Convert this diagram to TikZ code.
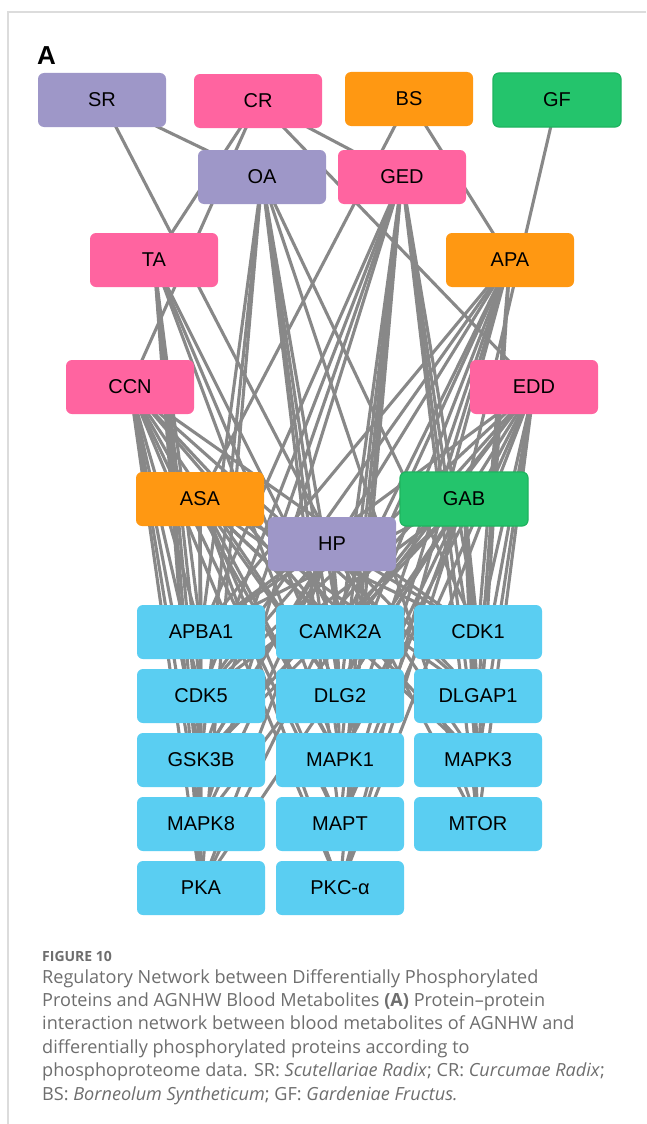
\documentclass[tikz,border=0pt]{standalone}
\usepackage{fontspec}
\setmainfont{Liberation Sans}
\newfontfamily\capfont{Open Sans}
\usetikzlibrary{backgrounds}

\definecolor{cpur}{RGB}{158,151,200}
\definecolor{cpink}{RGB}{255,100,160}
\definecolor{corange}{RGB}{255,152,18}
\definecolor{cgreen}{RGB}{36,196,108}
\definecolor{cgreenb}{RGB}{30,180,95}
\definecolor{cblue}{RGB}{90,206,242}
\definecolor{cedge}{RGB}{136,136,136}
\definecolor{ccap}{RGB}{110,110,110}
\definecolor{cframe}{RGB}{220,220,220}

\begin{document}
\begin{tikzpicture}[x=1pt,y=-1pt,
  box/.style={rounded corners=6pt, minimum width=128pt, minimum height=54pt, inner sep=0pt,
              font=\fontsize{20}{22}\selectfont, text=black},
  pur/.style={box, fill=cpur},
  pink/.style={box, fill=cpink},
  orng/.style={box, fill=corange},
  grn/.style={box, fill=cgreen, draw=cgreenb, line width=1.2pt},
  blu/.style={box, fill=cblue},
  link/.style={draw=cedge, line width=3.1pt},
  capline/.style={anchor=base west, inner sep=0pt, text=ccap, font=\capfont\fontsize{18.1}{20}\selectfont}
]
\useasboundingbox (0,0) rectangle (646,1124);

% frame
\draw[cframe, line width=1.2pt] (646,12) -- (8,12) -- (8,1124);

\node[anchor=base west, inner sep=0pt, font=\bfseries\fontsize{26}{28}\selectfont] (lblA) at (37,65) {A};

% herbs
\node[pur]  (sr)  at (102,100) {SR};
\node[pink] (cr)  at (258,101) {CR};
\node[orng] (bs)  at (409,99)  {BS};
\node[grn]  (gf)  at (557,100) {GF};
% metabolites
\node[pur]  (oa)  at (262,177) {OA};
\node[pink] (ged) at (402,177) {GED};
\node[pink] (ta)  at (154,260) {TA};
\node[orng] (apa) at (510,260) {APA};
\node[pink] (ccn) at (130,387) {CCN};
\node[pink] (edd) at (534,387) {EDD};
\node[orng] (asa) at (200,499) {ASA};
\node[grn]  (gab) at (464,499) {GAB};
\node[pur]  (hp)  at (332,544) {HP};
% proteins
\node[blu] (apba)      at (201,632) {APBA1};
\node[blu] (camk)      at (340,632) {CAMK2A};
\node[blu] (cdkone)    at (478,632) {CDK1};
\node[blu] (cdkfive)   at (201,696) {CDK5};
\node[blu] (dlgtwo)    at (340,696) {DLG2};
\node[blu] (dlgap)     at (478,696) {DLGAP1};
\node[blu] (gsk)       at (201,760) {GSK3B};
\node[blu] (mapkone)   at (340,760) {MAPK1};
\node[blu] (mapkthree) at (478,760) {MAPK3};
\node[blu] (mapkeight) at (201,824) {MAPK8};
\node[blu] (mapt)      at (340,824) {MAPT};
\node[blu] (mtor)      at (478,824) {MTOR};
\node[blu] (pka)       at (201,888) {PKA};
\node[blu] (pkc)       at (340,888) {PKC-α};

\begin{scope}[on background layer]
\fill[white] (0,0) rectangle (646,1124);
\foreach \a/\b in {sr/oa, sr/hp, cr/ta, cr/ccn, cr/ged, cr/edd, bs/asa, bs/apa, gf/gab}
  \draw[link] (\a.center) -- (\b.center);
\foreach \b in {apba, gsk, pka, mapkone, mapt, camk, mtor, cdkone, dlgtwo}
  \draw[link] (oa.center) -- (\b.center);
\foreach \b in {apba, cdkfive, gsk, mapkeight, camk, dlgtwo, mapkone, mapt, pkc, cdkone, dlgap, mapkthree, mtor}
  \draw[link] (ged.center) -- (\b.center);
\foreach \b in {apba, cdkfive, gsk, mapkeight, pka, camk, mapkone, dlgtwo}
  \draw[link] (ta.center) -- (\b.center);
\foreach \b in {apba, cdkfive, gsk, pka, camk, dlgtwo, mapkone, mapt, pkc, cdkone, mapkthree, dlgap}
  \draw[link] (apa.center) -- (\b.center);
\foreach \b in {apba, cdkfive, gsk, mapkeight, pka, camk, dlgtwo, mapkone, mapt, pkc, cdkone, dlgap, mapkthree}
  \draw[link] (ccn.center) -- (\b.center);
\foreach \b in {cdkone, dlgap, mapkthree, mtor, camk, dlgtwo, mapkone, mapt, pkc, apba, cdkfive, gsk, mapkeight}
  \draw[link] (edd.center) -- (\b.center);
\foreach \b in {apba, cdkfive, gsk, mapkeight, pka, camk, dlgtwo, mapkone, mapt, pkc, cdkone, dlgap, mapkthree}
  \draw[link] (asa.center) -- (\b.center);
\foreach \b in {cdkone, dlgap, mapkthree, mtor, camk, dlgtwo, mapkone, mapt, pkc, apba, cdkfive, gsk, pka}
  \draw[link] (gab.center) -- (\b.center);
\foreach \b in {apba, cdkfive, gsk, mapkeight, camk, dlgtwo, mapkone, cdkone, dlgap, mapkthree, mtor, pka}
  \draw[link] (hp.center) -- (\b.center);
\end{scope}

% caption
\node[anchor=base west, inner sep=0pt, text=ccap, font=\capfont\bfseries\fontsize{14}{16}\selectfont] (fig) at (42,961) {FIGURE 10};
\node[capline] (capa) at (42,983) {Regulatory Network between Differentially Phosphorylated};
\node[capline] (capb) at (42,1006.4) {Proteins and AGNHW Blood Metabolites \textbf{(A)} Protein–protein};
\node[capline] (capc) at (42,1029.8) {interaction network between blood metabolites of AGNHW and};
\node[capline] (capd) at (42,1053.2) {differentially phosphorylated proteins according to};
\node[capline] (cape) at (42,1076.6) {phosphoproteome data. SR: \textit{Scutellariae Radix}; CR: \textit{Curcumae Radix};};
\node[capline] (capf) at (42,1100) {BS: \textit{Borneolum Syntheticum}; GF: \textit{Gardeniae Fructus.}};
\end{tikzpicture}
\end{document}
